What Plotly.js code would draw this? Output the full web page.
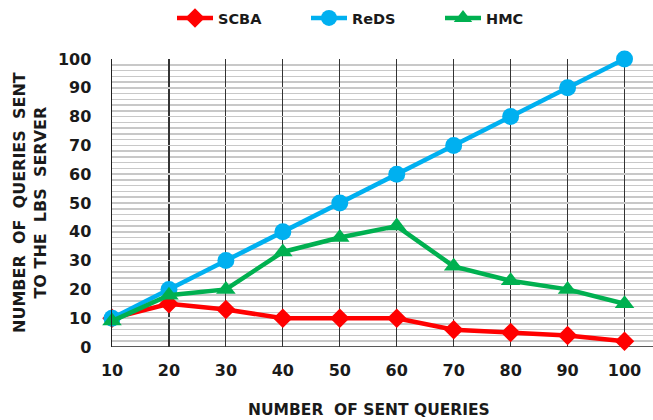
<!DOCTYPE html>
<html><head><meta charset="utf-8">
<script src="https://cdn.plot.ly/plotly-3.0.1.min.js"></script>
<style>html,body{margin:0;padding:0;background:#fff}#c{width:653px;height:420px}</style>
</head><body><div id="c"></div>
<script>
const sentQueries = [10, 20, 30, 40, 50, 60, 70, 80, 90, 100];
const scba = [10, 15, 13, 10, 10, 10, 6, 5, 4, 2];
const reds = [10, 20, 30, 40, 50, 60, 70, 80, 90, 100];
const hmc = [9, 18, 20, 33, 38, 42, 28, 23, 20, 15];
const yTicks = [0, 10, 20, 30, 40, 50, 60, 70, 80, 90, 100];

const font = "DejaVu Sans, Liberation Sans, sans-serif";
const txt = '#1a1a1a';
const traces = [
  {x: sentQueries, y: scba, name: 'SCBA', mode: 'lines+markers', cliponaxis: false,
   line: {color: '#FF0000', width: 4.5}, marker: {symbol: 'diamond', size: 15, color: '#FF0000'}},
  {x: sentQueries, y: reds, name: 'ReDS', mode: 'lines+markers', cliponaxis: false,
   line: {color: '#00B0F0', width: 4.5}, marker: {symbol: 'circle', size: 17, color: '#00B0F0'}},
  {x: sentQueries, y: hmc, name: 'HMC', mode: 'lines+markers', cliponaxis: false,
   line: {color: '#00B050', width: 4.5}, marker: {symbol: 'triangle-up', size: 17, color: '#00B050'}}
];
const layout = {
  width: 653, height: 420,
  margin: {l: 112, r: 0, t: 59, b: 73, autoexpand: false},
  paper_bgcolor: '#fff', plot_bgcolor: '#fff',
  showlegend: true,
  legend: {orientation: 'h', xref: 'container', yref: 'container', x: 172 / 653, xanchor: 'left',
    y: 1 - 18 / 420, yanchor: 'middle',
    font: {family: font, size: 14.5, color: txt, weight: 'bold'}, entrywidth: 83, itemwidth: 36},
  xaxis: {range: [10, 105], tickvals: sentQueries, ticktext: sentQueries.map(String),
    showgrid: true, gridcolor: '#333', gridwidth: 1.2, zeroline: false,
    showline: false, ticks: '', ticklabelstandoff: 12,
    tickfont: {family: font, size: 16, color: txt, weight: 'bold'}},
  yaxis: {range: [0, 100], tickvals: yTicks, showgrid: true, gridcolor: '#c8c8c8', gridwidth: 1.5,
    minor: {dtick: 2, showgrid: true, gridcolor: '#c8c8c8', gridwidth: 1.5},
    zeroline: false, showline: true, linecolor: '#222', linewidth: 1.5, ticks: '', ticklabelstandoff: 16,
    tickfont: {family: font, size: 16, color: txt, weight: 'bold'}},
  shapes: [
    {type: 'line', xref: 'paper', yref: 'y', x0: 0, x1: 1, y0: 0, y1: 0, line: {color: '#222', width: 1.5}, layer: 'below'}
  ],
  annotations: [
    {text: 'NUMBER\u00a0\u00a0OF SENT QUERIES', xref: 'paper', yref: 'paper', x: (369 - 112) / 541, y: -0.22, yanchor: 'middle',
     showarrow: false, font: {family: font, size: 15.5, color: txt, weight: 'bold'}},
    {text: 'NUMBER\u00a0 OF\u00a0 QUERIES\u00a0 SENT<br>TO THE\u00a0 LBS\u00a0 SERVER', xref: 'paper', yref: 'paper', x: (30 - 112) / 541, y: 0.5,
     textangle: -90, showarrow: false, xanchor: 'center', yanchor: 'middle',
     font: {family: font, size: 16, color: txt, weight: 'bold'}}
  ]
};
Plotly.newPlot('c', traces, layout, {displayModeBar: false, staticPlot: true});
</script></body></html>
